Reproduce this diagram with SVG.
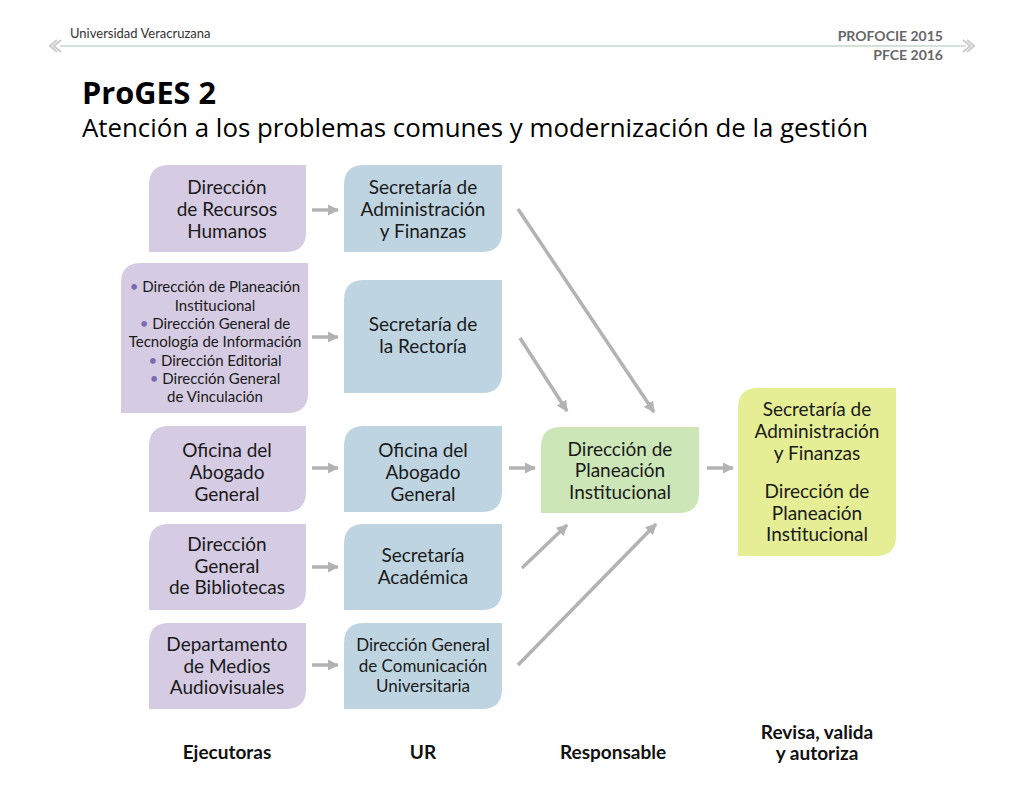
<svg xmlns="http://www.w3.org/2000/svg" width="1024" height="793" viewBox="0 0 1024 793">
<defs>
<marker id="ah" viewBox="0 0 10 10" refX="9" refY="5" markerWidth="3.2" markerHeight="3.2" orient="auto"><path d="M0,0 L10,5 L0,10 Z" fill="#b3b3b3"/></marker>
<style>
.t{font-family:Lato,"Noto Sans",sans-serif;font-size:19px;fill:#1a1a1a;text-anchor:middle}
.s{font-size:15px}
.p{fill:#d5cbe3}.b{fill:#bfd4e1}.g{fill:#cde6b8}.y{fill:#e5ee95}
.c{stroke:#b3b3b3;stroke-width:3.5;fill:none;marker-end:url(#ah)}
.f{font-family:Lato,"Noto Sans",sans-serif;font-weight:bold;font-size:19px;fill:#111;text-anchor:middle}
.bul{fill:#7a6bb0}
</style>
</defs>
<rect width="1024" height="793" fill="#fff"/>
<g id="header">
<text x="70" y="38" font-family="Lato,sans-serif" font-size="13" fill="#333">Universidad Veracruzana</text>
<text x="943" y="41" font-family="Lato,sans-serif" font-size="14" font-weight="bold" fill="#666" text-anchor="end">PROFOCIE 2015</text>
<text x="943" y="60" font-family="Lato,sans-serif" font-size="14" font-weight="bold" fill="#666" text-anchor="end">PFCE 2016</text>
<line x1="60" y1="46" x2="966" y2="46" stroke="#c5d8cc" stroke-width="1.5"/>
<path d="M57,40 L50,46 L57,52 M61,40 L54,46 L61,52" stroke="#ccc" stroke-width="2" fill="none"/>
<path d="M967,40 L974,46 L967,52 M963,40 L970,46 L963,52" stroke="#ccc" stroke-width="2" fill="none"/>
<text x="82" y="104" font-family="'Open Sans',sans-serif" font-size="31" font-weight="bold" fill="#000" textLength="134" lengthAdjust="spacingAndGlyphs">ProGES 2</text>
<text x="82" y="137" font-family="'Open Sans',sans-serif" font-size="26" fill="#000" textLength="786" lengthAdjust="spacingAndGlyphs">Atención a los problemas comunes y modernización de la gestión</text>
</g>
<g id="connectors">
<line class="c" x1="312" y1="210" x2="338" y2="210"/>
<line class="c" x1="312" y1="337" x2="338" y2="337"/>
<line class="c" x1="312" y1="468" x2="338" y2="468"/>
<line class="c" x1="312" y1="567" x2="338" y2="567"/>
<line class="c" x1="312" y1="665" x2="338" y2="665"/>
<line class="c" x1="509" y1="468" x2="535" y2="468"/>
<line class="c" x1="707" y1="468" x2="733" y2="468"/>
<line class="c" x1="518" y1="209" x2="654" y2="412"/>
<line class="c" x1="520" y1="338" x2="567" y2="411"/>
<line class="c" x1="522" y1="568" x2="567" y2="525"/>
<line class="c" x1="518" y1="665" x2="656" y2="524"/>
</g>
<g id="n1"><path class="p" d="M169,165 H306 V232 Q306,252 286,252 H149 V185 Q149,165 169,165Z"/>
<text class="t" x="227" y="194">Dirección</text><text class="t" x="227" y="216">de Recursos</text><text class="t" x="227" y="238">Humanos</text></g>
<g id="n2"><path class="p" d="M141,263 H308 V393 Q308,413 288,413 H121 V283 Q121,263 141,263Z"/>
<g class="t s"><text x="215" y="292"><tspan class="bul">• </tspan>Dirección de Planeación</text><text x="215" y="311">Institucional</text><text x="215" y="329"><tspan class="bul">• </tspan>Dirección General de</text><text x="215" y="347">Tecnología de Información</text><text x="215" y="366"><tspan class="bul">• </tspan>Dirección Editorial</text><text x="215" y="384"><tspan class="bul">• </tspan>Dirección General</text><text x="215" y="402">de Vinculación</text></g></g>
<g id="n3"><path class="p" d="M169,426 H306 V492 Q306,512 286,512 H149 V446 Q149,426 169,426Z"/>
<text class="t" x="227" y="457">Oficina del</text><text class="t" x="227" y="479">Abogado</text><text class="t" x="227" y="501">General</text></g>
<g id="n4"><path class="p" d="M169,524 H306 V590 Q306,610 286,610 H149 V544 Q149,524 169,524Z"/>
<text class="t" x="227" y="551">Dirección</text><text class="t" x="227" y="573">General</text><text class="t" x="227" y="594">de Bibliotecas</text></g>
<g id="n5"><path class="p" d="M169,623 H306 V689 Q306,709 286,709 H149 V643 Q149,623 169,623Z"/>
<text class="t" x="227" y="651">Departamento</text><text class="t" x="227" y="673">de Medios</text><text class="t" x="227" y="694">Audiovisuales</text></g>
<g id="u1"><path class="b" d="M364,165 H502 V232 Q502,252 482,252 H344 V185 Q344,165 364,165Z"/>
<text class="t" x="423" y="194">Secretaría de</text><text class="t" x="423" y="216">Administración</text><text class="t" x="423" y="238">y Finanzas</text></g>
<g id="u2"><path class="b" d="M364,280 H502 V373 Q502,393 482,393 H344 V300 Q344,280 364,280Z"/>
<text class="t" x="423" y="331">Secretaría de</text><text class="t" x="423" y="353">la Rectoría</text></g>
<g id="u3"><path class="b" d="M364,426 H502 V492 Q502,512 482,512 H344 V446 Q344,426 364,426Z"/>
<text class="t" x="423" y="457">Oficina del</text><text class="t" x="423" y="479">Abogado</text><text class="t" x="423" y="501">General</text></g>
<g id="u4"><path class="b" d="M364,524 H502 V590 Q502,610 482,610 H344 V544 Q344,524 364,524Z"/>
<text class="t" x="423" y="562">Secretaría</text><text class="t" x="423" y="584">Académica</text></g>
<g id="u5"><path class="b" d="M364,623 H502 V689 Q502,709 482,709 H344 V643 Q344,623 364,623Z"/>
<text class="t" x="423" y="651" style="font-size:17px">Dirección General</text><text class="t" x="423" y="672" style="font-size:17px">de Comunicación</text><text class="t" x="423" y="692" style="font-size:17px">Universitaria</text></g>
<g id="r1"><path class="g" d="M561,427 H699 V493 Q699,513 679,513 H541 V447 Q541,427 561,427Z"/>
<text class="t" x="620" y="456">Dirección de</text><text class="t" x="620" y="477">Planeación</text><text class="t" x="620" y="499">Institucional</text></g>
<g id="a1"><path class="y" d="M758,388 H896 V536 Q896,556 876,556 H738 V408 Q738,388 758,388Z"/>
<text class="t" x="817" y="416">Secretaría de</text><text class="t" x="817" y="438">Administración</text><text class="t" x="817" y="460">y Finanzas</text>
<text class="t" x="817" y="498">Dirección de</text><text class="t" x="817" y="520">Planeación</text><text class="t" x="817" y="541">Institucional</text></g>
<g id="footer">
<text class="f" x="227" y="759">Ejecutoras</text>
<text class="f" x="423" y="759">UR</text>
<text class="f" x="613" y="759">Responsable</text>
<text class="f" x="817" y="739">Revisa, valida</text>
<text class="f" x="817" y="760">y autoriza</text>
</g>
</svg>
